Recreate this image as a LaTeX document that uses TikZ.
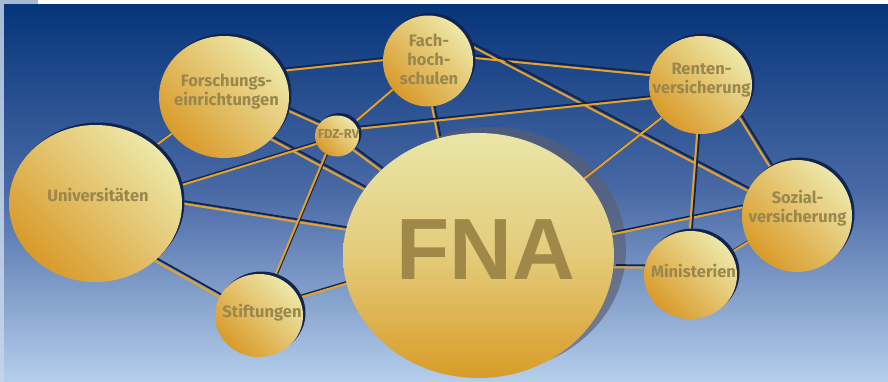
\documentclass[tikz,border=0pt]{standalone}
\usepackage{fontspec}
\setmainfont{Fira Sans}
\newfontfamily\fnafont{Liberation Sans}
\usetikzlibrary{shapes.geometric,shadows}
\definecolor{bgtop}{HTML}{06357A}
\definecolor{bgmid}{HTML}{4A6AA6}
\definecolor{bgbot}{HTML}{B4CEEB}
\definecolor{pale}{HTML}{EDE8A9}
\definecolor{gold}{HTML}{D99A2A}
\definecolor{fnatop}{HTML}{EAE6A8}
\definecolor{fnamid}{HTML}{E4CB7A}
\definecolor{fnabot}{HTML}{D89C28}
\definecolor{goldline}{HTML}{E3A22C}
\definecolor{navyshadow}{HTML}{11244F}
\definecolor{lbltext}{HTML}{9A874E}
\definecolor{fnatext}{HTML}{A08848}
\definecolor{fnashade}{HTML}{5A5E70}
\definecolor{stripc}{HTML}{A6BAD6}
\definecolor{stripb}{HTML}{C2D3EA}
\pgfdeclarelayer{bglayer}
\pgfdeclarelayer{linelayer}
\pgfsetlayers{bglayer,linelayer,main}
\begin{document}
\begin{tikzpicture}[x=1pt,y=-1pt,
  bubble/.style={ellipse, inner sep=0pt, top color=pale, bottom color=gold, shading angle=-45,
    general shadow={fill=navyshadow, shadow xshift=2.5pt, shadow yshift=2.5pt}},
  lbl/.style={text=lbltext, font=\bfseries\fontsize{16.5}{19}\selectfont, align=center, inner sep=0pt},
  conn/.style={draw=goldline, line width=2pt},
  connshadow/.style={draw=navyshadow, line width=1.8pt, transform canvas={shift={(2.3pt,2.3pt)}}},
]
\useasboundingbox (0,0) rectangle (888,381);

% circles
\node[bubble, minimum width=130pt, minimum height=122pt] (forsch) at (224,97) {};
\node[bubble, minimum width=173pt, minimum height=157pt] (uni) at (95.5,203.5) {};
\node[bubble, minimum width=90pt, minimum height=91pt] (fach) at (428,61) {};
\node[bubble, minimum width=44pt, minimum height=41pt] (fdz) at (337,136) {};
\node[bubble, minimum width=103pt, minimum height=98pt] (renten) at (700.5,85) {};
\node[bubble, minimum width=110pt, minimum height=112pt] (sozial) at (797,216) {};
\node[bubble, minimum width=93pt, minimum height=88pt] (minist) at (690.5,275) {};
\node[bubble, minimum width=88pt, minimum height=83pt] (stift) at (259,315.5) {};
\node[ellipse, inner sep=0pt, minimum width=271pt, minimum height=245pt,
      top color=fnatop, bottom color=fnabot, middle color=fnamid] (fna) at (478.5,255.5) {};

% labels
\node[lbl] (forschT) at (226.5,92) {Forschungs-\\einrichtungen};
\node[lbl] (uniT) at (98,194.5) {Universitäten};
\node[lbl] (fachT) at (429,59) {Fach-\\hoch-\\schulen};
\node[lbl, font=\bfseries\fontsize{13}{14}\selectfont] (fdzT) at (338.5,133.5) {FDZ-RV};
\node[lbl] (rentenT) at (701.5,80) {Renten-\\versicherung};
\node[lbl] (sozialT) at (797.5,208) {Sozial-\\versicherung};
\node[lbl] (ministT) at (693.5,270.5) {Ministerien};
\node[lbl] (stiftT) at (262,312.5) {Stiftungen};
\node[text=fnatext, inner sep=0pt, font=\fnafont\bfseries\fontsize{87}{90}\selectfont] (fnaT) at (485.5,250) {FNA};

% background
\begin{pgfonlayer}{bglayer}
  \fill[white] (0,0) rectangle (888,4);
  \shade[top color=stripc, bottom color=stripb] (0,0) rectangle (4,381);
  \fill[stripc] (0,0) rectangle (38,4);
  \shade[top color=bgtop, bottom color=bgbot, middle color=bgmid] (4,4) rectangle (888,381);
  \fill[fnashade, opacity=0.65] ([shift={(12pt,6pt)}]fna.center) ellipse [x radius=135.5pt, y radius=122.5pt];
\end{pgfonlayer}

% connectors
\begin{pgfonlayer}{linelayer}
\foreach \a/\b in {forsch.24/fach.179, fach.4/renten.169, fach.20/sozial.153, fach.219/fdz.38,
  fach.275/fna.109, fdz.19/renten.195, forsch.348/fdz.148, forsch.318/fna.150, uni.12/fdz.201,
  uni.44/forsch.215, uni.0/fna.169, uni.316/stift.155, stift.68/fdz.238, stift.24/fna.192,
  fdz.319/fna.139, fna.36/renten.220, fna.9/sozial.171, fna.355/minist.171, minist.91/renten.266,
  minist.29/sozial.208, renten.320/sozial.119}
{
  \draw[connshadow] (\a) -- (\b);
  \draw[conn] (\a) -- (\b);
}
\end{pgfonlayer}
\end{tikzpicture}
\end{document}
